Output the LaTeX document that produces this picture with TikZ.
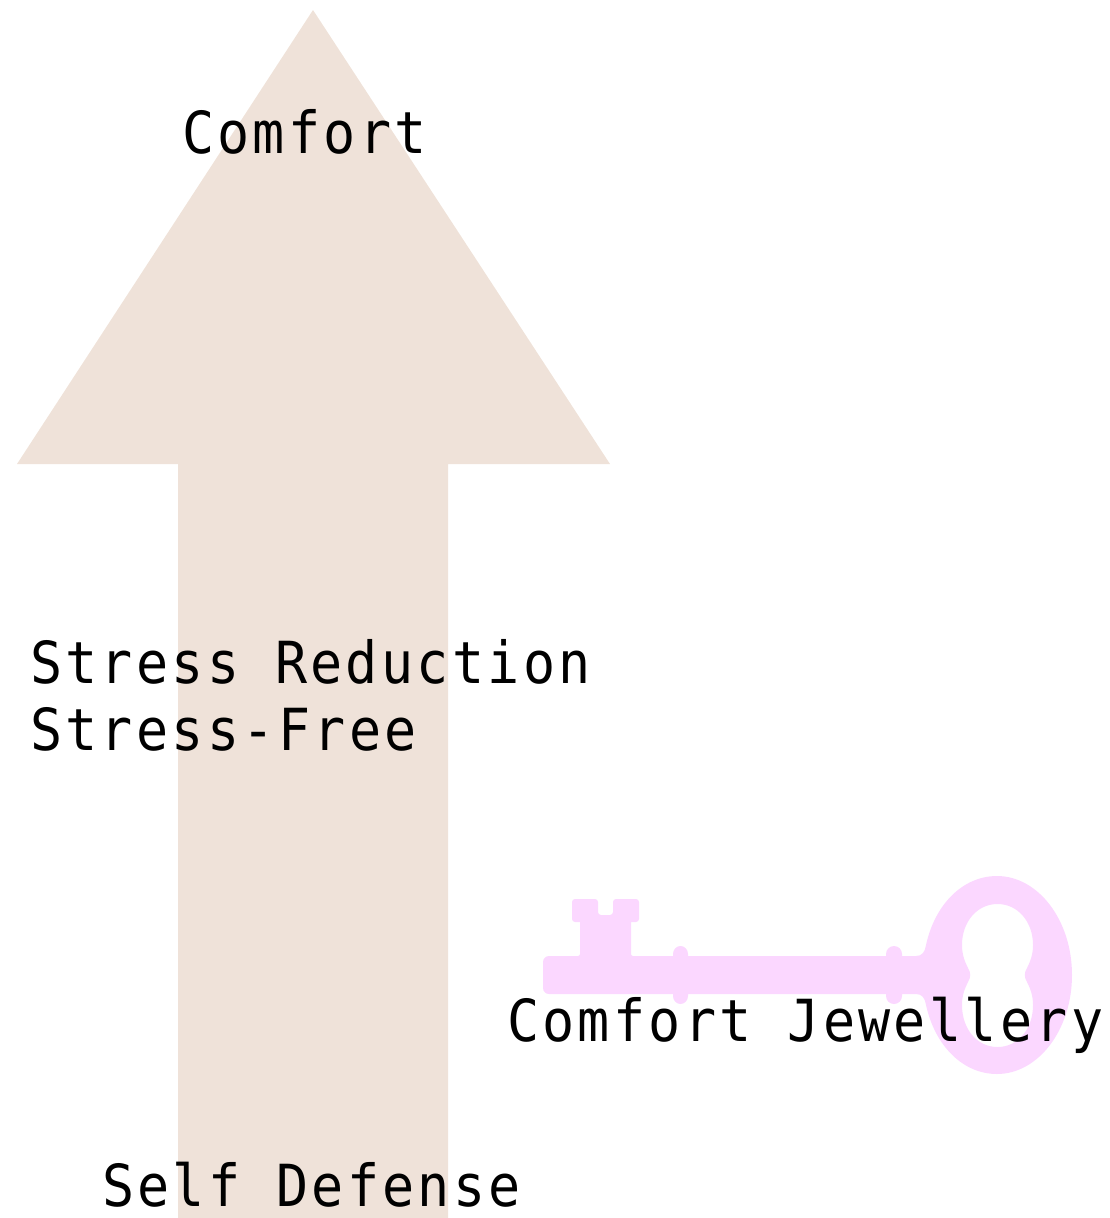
\documentclass[tikz,border=0pt]{standalone}
\usepackage{fontspec}
\setmainfont[FakeStretch=0.92,LetterSpace=5.8]{DejaVu Sans Mono}
\definecolor{arrowtan}{HTML}{EFE2D9}
\definecolor{keypink}{HTML}{FBD7FF}
\tikzset{
  label text/.style={anchor=base west,inner sep=0pt,outer sep=0pt,font=\fontsize{58}{67}\selectfont,text=black},
  arrow shape/.style={fill=arrowtan,draw=none},
  key shape/.style={fill=keypink,draw=none},
}
\begin{document}
\begin{tikzpicture}[x=1pt,y=-1pt]
\useasboundingbox (0,0) rectangle (1110,1218);
% arrow
\path[arrow shape] (313,10) -- (610,464) -- (448,464) -- (448,1218) -- (178,1218) -- (178,464) -- (17,464) -- cycle;
% key
\path[key shape,even odd rule]
  (997,876) .. controls (1038,876) and (1072,920) .. (1072,975)
  .. controls (1072,1030) and (1038,1074) .. (997,1074)
  .. controls (963,1074) and (935,1046) .. (926,1005)
  .. controls (925,998) and (922,994) .. (916,994)
  -- (902,994) -- (902,996) arc[start angle=0,end angle=180,x radius=8,y radius=8] -- (886,994)
  -- (688,994) -- (688,996) arc[start angle=0,end angle=180,x radius=7.5,y radius=8] -- (673,994)
  -- (549,994) arc[start angle=90,end angle=180,radius=6] -- (543,962) arc[start angle=180,end angle=270,radius=6]
  -- (578,956) arc[start angle=90,end angle=0,radius=2] -- (580,922) -- (575,922)
  arc[start angle=90,end angle=180,radius=3] -- (572,902) arc[start angle=180,end angle=270,radius=3]
  -- (595,899) arc[start angle=-90,end angle=0,radius=3] -- (598,912) arc[start angle=180,end angle=90,radius=3]
  -- (610,915) arc[start angle=90,end angle=0,radius=3] -- (613,902) arc[start angle=180,end angle=270,radius=3]
  -- (636,899) arc[start angle=-90,end angle=0,radius=3] -- (639,919) arc[start angle=0,end angle=90,radius=3]
  -- (631,922) -- (631,954) arc[start angle=180,end angle=90,radius=2]
  -- (673,956) -- (673,954) arc[start angle=180,end angle=360,x radius=7.5,y radius=8] -- (688,956)
  -- (886,956) -- (886,954) arc[start angle=180,end angle=360,x radius=8,y radius=8] -- (902,956)
  -- (916,956) .. controls (922,956) and (925,952) .. (926,945)
  .. controls (935,904) and (963,876) .. (997,876) -- cycle
  (997.5,904) .. controls (1018,904) and (1033,922) .. (1033,945)
  .. controls (1033,955) and (1030,962) .. (1027,968)
  .. controls (1024,973) and (1024,977) .. (1027,982)
  .. controls (1030,988) and (1033,995) .. (1033,1005)
  .. controls (1033,1029) and (1018,1047) .. (997.5,1047)
  .. controls (977,1047) and (962,1029) .. (962,1005)
  .. controls (962,995) and (965,988) .. (968,982)
  .. controls (971,977) and (971,973) .. (968,968)
  .. controls (965,962) and (962,955) .. (962,945)
  .. controls (962,922) and (977,904) .. (997.5,904) -- cycle;
% labels
\node[label text] (comfort) at (182,153) {Comfort};
\node[label text] (reduction) at (30,683) {Stress Reduction};
\node[label text] (free) at (30,750) {Stress-Free};
\node[label text] (jewellery) at (507,1041) {Comfort Jewellery};
\node[label text] (defense) at (102,1206) {Self Defense};
\end{tikzpicture}
\end{document}
